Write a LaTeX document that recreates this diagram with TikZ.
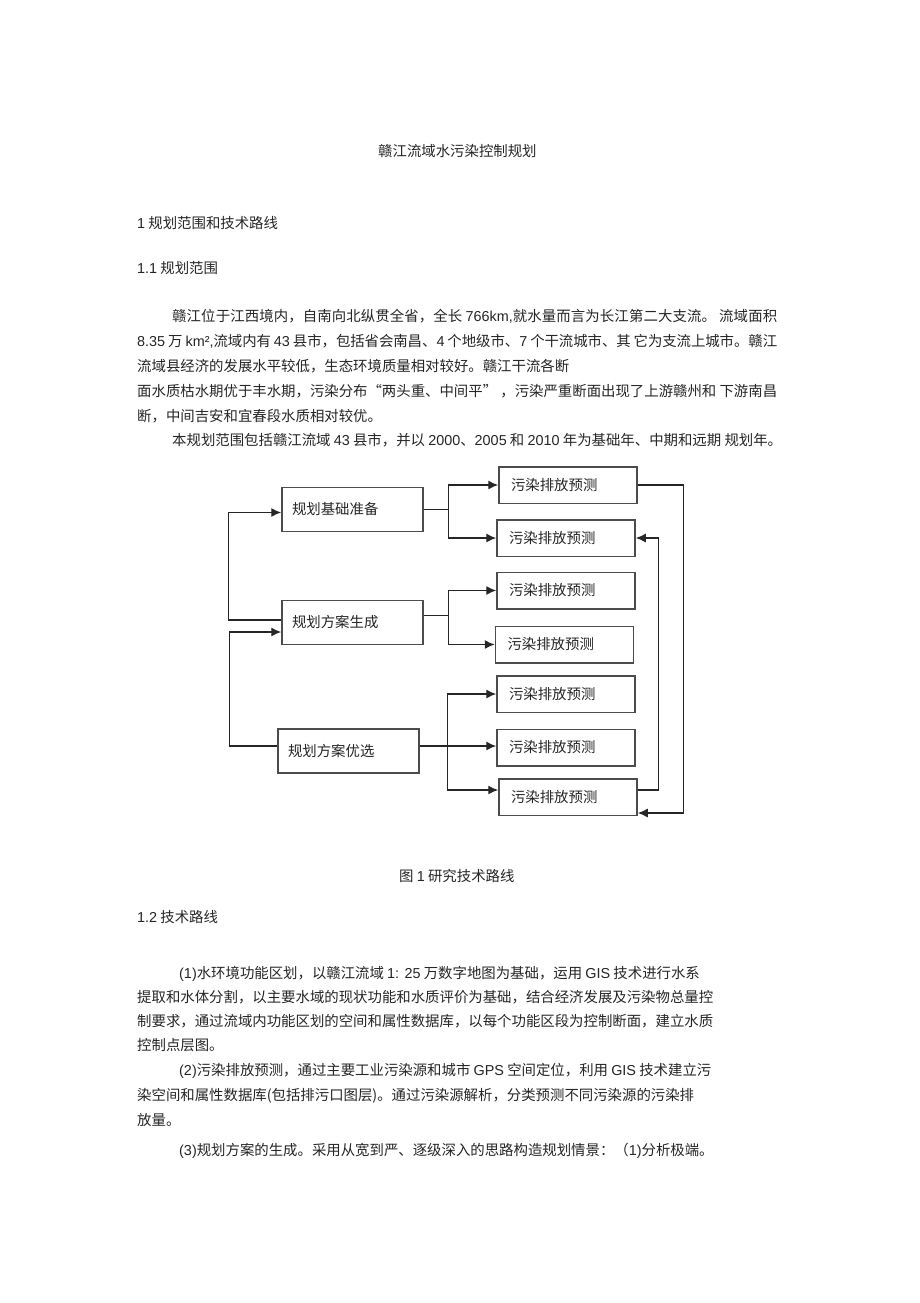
\documentclass[tikz,border=0pt]{standalone}
\usepackage{fontspec}
\usetikzlibrary{arrows.meta}
\newfontfamily\cjk{Noto Sans CJK SC}
\newfontfamily\lat{Liberation Sans}
\XeTeXlinebreaklocale "zh"
\XeTeXlinebreakskip=0pt plus 2pt minus 0.3pt
\newcommand\en[1]{{\lat #1}}
\newcommand\jline[2]{\parbox[b]{#1}{\tolerance=10000\parfillskip=0pt\relax #2}}

\tikzset{
	every node/.style={font=\cjk\fontsize{14.4}{17}\selectfont, text=black!85},
	txt/.style={anchor=base west, inner sep=0pt},
	stagebox/.style={draw=black!70, line width=1.5pt, minimum height=44pt, inner xsep=10pt, text width=121pt, align=left},
	predbox/.style={draw=black!70, line width=1.5pt, minimum height=36.5pt, inner xsep=12pt, text width=114pt, align=left},
	link/.style={draw=black!85, line width=1.4pt, -{Latex[length=10pt,width=9pt]}}
}

\begin{document}
\begin{tikzpicture}[x=1pt,y=-1pt]
	\fill[white] (0,0) rectangle (920,1303);
	\useasboundingbox (0,0) rectangle (920,1303);

	% page text above the figure
	\node[txt] (title) at (378,157) {赣江流域水污染控制规划};
	\node[txt] (sec1) at (137,228) {\en{1} 规划范围和技术路线};
	\node[txt] (sec11) at (137,273) {\en{1.1} 规划范围};

	\node[txt] (scope1) at (172,321) {\jline{605pt}{赣江位于江西境内，自南向北纵贯全省，全长 \en{766km,}就水量而言为长江第二大支流。 流域面积}};
	\node[txt] (scope2) at (137,346.5) {\jline{640pt}{\en{8.35} 万 \en{km²,}流域内有 \en{43} 县市，包括省会南昌、\en{4} 个地级市、\en{7} 个干流城市、其 它为支流上城市。赣江}};
	\node[txt] (scope3) at (137,371) {流域县经济的发展水平较低，生态环境质量相对较好。赣江干流各断};
	\node[txt] (scope4) at (137,396) {\jline{640pt}{面水质枯水期优于丰水期，污染分布“两头重、中间平” ，污染严重断面出现了上游赣州和 下游南昌}};
	\node[txt] (scope5) at (137,421) {断，中间吉安和宜春段水质相对较优。};
	\node[txt] (scope6) at (172,445) {本规划范围包括赣江流域 \en{43} 县市，并以 \en{2000}、\en{2005} 和 \en{2010} 年为基础年、中期和远期 规划年。};

	% figure 1
	\node[stagebox] (prep) at (352.5,509.5) {规划基础准备};
	\node[stagebox] (gen) at (352.5,622.5) {规划方案生成};
	\node[stagebox] (sel) at (348.5,751) {规划方案优选};

	\node[predbox] (fc1) at (568,485) {污染排放预测};
	\node[predbox] (fc2) at (566,538) {污染排放预测};
	\node[predbox] (fc3) at (566,590.5) {污染排放预测};
	\node[predbox] (fc4) at (564.5,644.5) {污染排放预测};
	\node[predbox] (fc5) at (566,694) {污染排放预测};
	\node[predbox] (fc6) at (566,747.5) {污染排放预测};
	\node[predbox] (fc7) at (568,797) {污染排放预测};

	\draw[link] (prep.east) -- ++(25,0) |- (fc1.west);
	\draw[link] (prep.east) -- ++(25,0) |- (fc2.west);

	\draw[link] ([yshift=7pt]gen.east) -- ++(25,0) |- (fc3.west);
	\draw[link] ([yshift=7pt]gen.east) -- ++(25,0) |- (fc4.west);

	\coordinate (selout) at ([yshift=5pt]sel.east);
	\coordinate (selsplit) at ([xshift=28pt]selout);
	\draw[link] (selout) -- (selout -| fc6.west);
	\draw[link] (selsplit) |- (fc5.west);
	\draw[link] (selsplit) |- ([yshift=7pt]fc7.west);

	% loops on the left
	\draw[link] ([yshift=5pt]sel.west) -- ++(-48,0) |- ([yshift=-9.5pt]gen.west);
	\draw[link] ([yshift=2.5pt]gen.west) -- ++(-53,0) |- ([yshift=-3pt]prep.west);

	% feedback on the right
	\draw[link] (fc1.east) -- ++(46,0) |- ([yshift=-16pt]fc7.east);
	\draw[link] ([yshift=7pt]fc7.east) -- ++(21,0) |- (fc2.east);

	\node[txt] (caption) at (399,881) {图 \en{1} 研究技术路线};

	% page text below the figure
	\node[txt] (sec12) at (137,922) {\en{1.2} 技术路线};

	\node[txt] (route1) at (179,978) {\en{(1)}水环境功能区划，以赣江流域 \en{1: 25} 万数字地图为基础，运用 \en{GIS} 技术进行水系};
	\node[txt] (route2) at (137,1002) {提取和水体分割，以主要水域的现状功能和水质评价为基础，结合经济发展及污染物总量控};
	\node[txt] (route3) at (137,1026) {制要求，通过流域内功能区划的空间和属性数据库，以每个功能区段为控制断面，建立水质};
	\node[txt] (route4) at (137,1050) {控制点层图。};
	\node[txt] (route5) at (179,1075) {\en{(2)}污染排放预测，通过主要工业污染源和城市 \en{GPS} 空间定位，利用 \en{GIS} 技术建立污};
	\node[txt] (route6) at (137,1100) {染空间和属性数据库(包括排污口图层)。通过污染源解析，分类预测不同污染源的污染排};
	\node[txt] (route7) at (137,1125) {放量。};
	\node[txt] (route8) at (179,1155) {\en{(3)}规划方案的生成。采用从宽到严、逐级深入的思路构造规划情景：（\en{1)}分析极端。};
\end{tikzpicture}
\end{document}
